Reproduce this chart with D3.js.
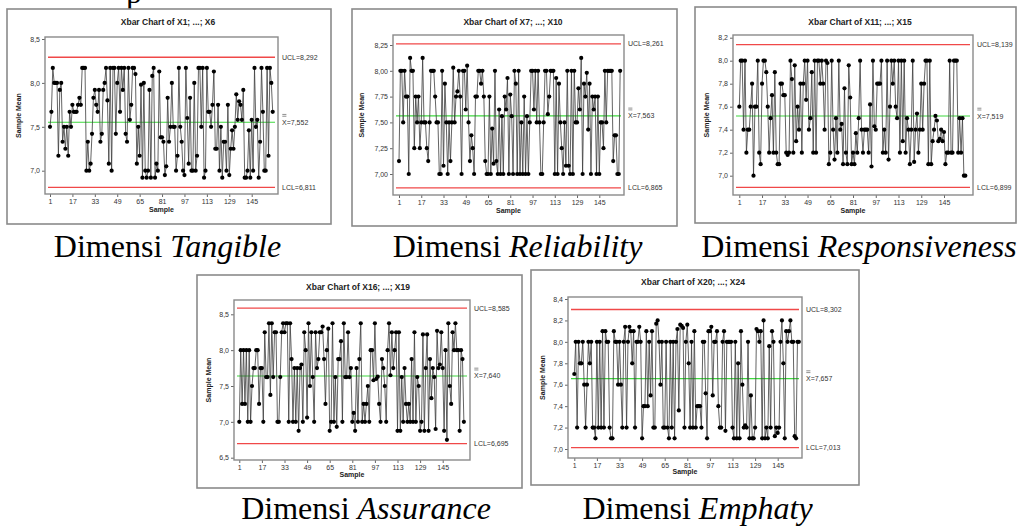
<!DOCTYPE html>
<html>
<head>
<meta charset="utf-8">
<script src="https://cdn.jsdelivr.net/npm/d3@7"></script>
<style>
  body { margin: 0; background: #fff; }
  svg { display: block; }
</style>
</head>
<body>
<div id="chart-container"></div>
<script>
// Sample numbers shown on every x axis
const sampleTicks = [1, 17, 33, 49, 65, 81, 97, 113, 129, 145];

// Sample means (160 samples each)
const tangibleMeans = [
  7.50, 7.67, 8.17, 8.00, 8.00, 8.00, 7.17, 7.92, 8.00, 7.33,
  7.50, 7.25, 7.50, 7.17, 7.67, 7.50, 7.75, 7.67, 7.67, 7.67,
  7.75, 7.83, 7.75, 8.17, 8.17, 8.17, 7.00, 7.33, 7.00, 7.08,
  7.42, 7.83, 7.92, 7.75, 7.67, 7.92, 7.33, 7.42, 7.92, 8.00,
  8.17, 7.80, 7.08, 8.17, 7.00, 8.17, 8.17, 7.42, 8.00, 8.17,
  7.67, 8.17, 7.92, 8.17, 7.42, 7.33, 8.17, 7.58, 7.75, 8.17,
  8.17, 8.10, 7.08, 7.50, 7.17, 7.98, 6.92, 8.00, 7.00, 6.92,
  7.00, 7.92, 6.92, 8.08, 8.17, 6.92, 7.08, 7.00, 8.13, 7.38,
  7.38, 7.33, 6.95, 7.05, 7.83, 7.33, 7.50, 8.00, 7.50, 7.50,
  7.00, 7.17, 8.17, 7.50, 7.33, 7.00, 6.95, 8.17, 7.60, 7.08,
  7.83, 7.00, 7.00, 8.00, 7.00, 7.17, 8.17, 8.17, 7.50, 8.17,
  6.92, 7.00, 8.17, 7.67, 7.67, 7.50, 7.75, 8.13, 7.25, 7.25,
  7.75, 7.00, 7.50, 6.92, 7.33, 7.33, 7.00, 7.75, 6.95, 7.25,
  7.46, 7.25, 7.50, 7.87, 7.58, 7.79, 7.75, 7.58, 7.92, 6.92,
  6.92, 7.00, 7.46, 6.92, 7.58, 7.00, 8.17, 7.50, 7.58, 6.92,
  7.33, 8.17, 7.67, 7.00, 7.00, 8.17, 7.17, 8.17, 8.00, 7.67
];
const reliabilityMeans = [
  7.125, 8.0, 8.0, 7.5, 8.0, 7.75, 7.75, 7.0, 8.125, 8.0,
  8.0, 7.25, 7.75, 7.5, 7.75, 7.25, 7.5, 8.125, 7.5, 7.5,
  7.25, 7.125, 7.5, 8.0, 8.0, 8.0, 7.75, 7.5, 7.5, 7.0,
  7.0, 8.0, 7.08, 7.875, 7.5, 7.0, 7.5, 7.125, 7.5, 8.03,
  7.5, 7.75, 7.8, 8.0, 7.75, 7.0, 8.0, 8.0, 7.625, 8.05,
  7.5, 7.125, 7.375, 7.25, 7.0, 7.75, 7.75, 8.0, 8.0, 7.875,
  8.0, 7.75, 7.125, 7.0, 7.0, 7.75, 7.0, 7.44, 7.1, 8.0,
  7.125, 7.0, 7.625, 7.0, 7.56, 7.0, 7.75, 7.625, 7.93, 7.0,
  7.77, 7.56, 7.0, 8.0, 7.875, 7.0, 8.0, 7.0, 7.5, 7.0,
  7.75, 7.0, 7.56, 7.0, 7.5, 8.0, 8.0, 7.625, 8.0, 7.5,
  8.0, 7.5, 7.0, 7.0, 7.5, 8.0, 8.0, 7.58, 7.75, 8.0,
  8.0, 8.0, 7.0, 7.93, 7.0, 7.875, 7.5, 7.25, 7.0, 7.5,
  7.08, 8.0, 7.08, 7.0, 8.0, 7.0, 8.0, 7.5, 7.5, 7.83,
  7.625, 8.125, 7.0, 7.875, 7.75, 7.98, 7.43, 7.875, 7.0, 7.75,
  7.625, 7.75, 7.0, 7.75, 7.0, 7.5, 7.5, 7.25, 8.0, 7.5,
  8.0, 8.0, 8.0, 8.0, 7.125, 7.375, 7.375, 7.0, 7.0, 8.0
];
const responsivenessMeans = [
  7.6, 8.0, 8.0, 7.4, 8.0, 7.2, 7.4, 7.4, 7.6, 7.8,
  7.0, 7.6, 7.6, 8.0, 7.2, 7.1, 7.8, 8.0, 8.0, 7.9,
  7.6, 7.2, 7.5, 7.7, 7.2, 7.9, 7.2, 7.1, 7.1, 7.8,
  7.8, 7.7, 7.7, 7.2, 7.18, 7.2, 8.0, 7.84, 7.2, 7.96,
  7.3, 7.6, 7.4, 7.8, 7.2, 7.8, 8.0, 7.66, 8.0, 7.4,
  7.5, 7.9, 7.2, 8.0, 7.2, 8.0, 8.0, 7.8, 8.0, 7.8,
  7.4, 8.0, 7.98, 7.1, 7.2, 8.0, 7.4, 7.14, 7.5, 7.2,
  8.0, 7.4, 7.45, 7.1, 7.76, 7.2, 7.1, 7.96, 7.68, 7.1,
  7.2, 7.1, 7.37, 7.2, 7.5, 8.0, 7.4, 7.2, 7.4, 7.4,
  7.4, 7.2, 7.62, 7.08, 8.0, 7.43, 7.4, 7.8, 7.8, 7.8,
  8.0, 7.2, 7.4, 7.2, 8.0, 7.14, 7.6, 8.0, 7.8, 8.0,
  7.6, 7.5, 8.0, 7.2, 8.0, 7.3, 8.0, 7.2, 7.5, 7.4,
  7.1, 7.4, 8.0, 7.12, 7.4, 7.54, 7.2, 7.4, 7.8, 7.4,
  7.8, 8.0, 8.0, 7.1, 8.0, 7.1, 7.3, 7.4, 7.52, 7.48,
  7.3, 7.32, 7.4, 7.3, 7.38, 7.1, 7.2, 7.2, 8.0, 7.2,
  7.2, 8.0, 8.0, 8.0, 7.2, 7.5, 7.2, 7.5, 7.0, 7.0
];
const assuranceMeans = [
  7.0, 8.0, 7.25, 8.0, 7.25, 8.0, 7.0, 8.0, 7.0, 7.5,
  7.75, 7.75, 8.0, 8.0, 7.25, 7.75, 7.75, 7.0, 8.25, 7.625,
  7.625, 8.375, 7.375, 8.375, 7.625, 8.25, 8.25, 7.0, 7.0, 7.625,
  8.25, 8.375, 8.25, 8.375, 8.375, 7.0, 8.375, 7.875, 7.0, 7.75,
  7.0, 7.75, 6.875, 7.75, 7.8, 7.0, 8.25, 8.0, 7.06, 8.375,
  7.5, 8.25, 7.625, 7.0, 8.25, 7.75, 7.875, 8.25, 8.25, 8.33,
  7.875, 7.25, 8.0, 8.3, 6.875, 7.0, 8.375, 7.0, 7.625, 6.93,
  7.875, 7.875, 8.125, 7.0, 8.375, 7.625, 7.625, 8.25, 7.625, 7.75,
  7.0, 7.125, 6.875, 7.75, 7.0, 7.875, 8.375, 7.0, 7.25, 7.0,
  7.25, 7.5, 7.0, 8.0, 8.0, 7.58, 8.375, 7.6, 7.63, 7.25,
  7.0, 7.875, 7.75, 7.5, 7.0, 8.0, 8.375, 7.65, 8.25, 7.75,
  8.0, 8.25, 6.875, 8.25, 6.875, 7.625, 7.0, 7.75, 7.25, 7.0,
  7.25, 7.0, 7.875, 7.0, 8.25, 7.0, 7.625, 7.5, 6.875, 7.0,
  8.22, 6.875, 7.75, 8.22, 6.875, 7.875, 7.33, 7.75, 7.625, 6.9,
  8.27, 7.75, 7.8, 8.25, 7.75, 6.875, 8.0, 6.75, 8.375, 7.5,
  7.25, 8.25, 8.0, 8.375, 8.0, 8.0, 6.875, 8.0, 7.875, 7.0
];
const emphatyMeans = [
  7.7, 8.0, 7.2, 8.0, 7.8, 7.8, 8.0, 7.6, 7.2, 7.6,
  8.0, 7.8, 8.0, 7.2, 7.2, 7.1, 8.0, 7.2, 8.0, 7.2,
  8.1, 7.2, 8.1, 8.0, 8.0, 7.2, 7.1, 7.1, 8.1, 8.0,
  8.0, 7.6, 8.0, 7.6, 7.2, 8.0, 8.14, 7.2, 8.0, 8.14,
  8.1, 7.8, 8.1, 7.2, 8.0, 8.0, 8.14, 8.0, 7.1, 7.4,
  7.4, 8.1, 7.4, 8.0, 7.5, 8.1, 7.2, 7.2, 8.17, 8.2,
  8.0, 7.6, 8.0, 7.2, 7.2, 8.0, 7.2, 7.1, 8.0, 7.2,
  8.0, 7.1, 8.0, 8.12, 7.36, 8.16, 8.15, 8.13, 7.2, 8.0,
  8.16, 7.8, 7.2, 8.0, 7.2, 8.1, 7.2, 7.4, 7.4, 7.4,
  7.2, 8.0, 8.0, 7.52, 7.1, 8.1, 8.1, 8.14, 7.5, 8.0,
  8.0, 8.1, 7.4, 7.2, 7.2, 8.0, 8.1, 7.17, 8.0, 8.0,
  8.0, 8.0, 7.2, 7.1, 8.0, 7.1, 7.8, 7.1, 8.1, 7.6,
  7.2, 7.22, 7.2, 8.0, 7.1, 7.5, 7.1, 7.1, 7.2, 8.12,
  8.1, 8.0, 8.1, 7.1, 8.2, 7.1, 7.2, 7.1, 7.96, 7.2,
  8.1, 8.0, 7.12, 7.2, 7.15, 7.2, 8.0, 8.2, 7.8, 7.1,
  8.1, 8.0, 8.1, 8.2, 8.0, 8.0, 7.12, 7.1, 8.0, 8.0
];

// Control limits: UCL, centre line (X double bar), LCL
const uclValues = [8.292, 8.261, 8.139, 8.585, 8.302];
const centerValues = [7.552, 7.563, 7.519, 7.640, 7.657];
const lclValues = [6.811, 6.865, 6.899, 6.695, 7.013];

// Y tick labels for each chart
const yTicksTangible = [7.0, 7.5, 8.0, 8.5];
const yTicksReliability = [7.00, 7.25, 7.50, 7.75, 8.00, 8.25];
const yTicksResponsiveness = [7.0, 7.2, 7.4, 7.6, 7.8, 8.0, 8.2];
const yTicksAssurance = [6.5, 7.0, 7.5, 8.0, 8.5];
const yTicksEmphaty = [7.0, 7.2, 7.4, 7.6, 7.8, 8.0, 8.2, 8.4];

const chartTitles = [
  "Xbar Chart of X1; ...; X6",
  "Xbar Chart of X7; ...; X10",
  "Xbar Chart of X11; ...; X15",
  "Xbar Chart of X16; ...; X19",
  "Xbar Chart of X20; ...; X24"
];
const dimensionNames = ["Tangible", "Reliability", "Responsiveness", "Assurance", "Emphaty"];

// Where each panel sits on the page (pixels)
const layouts = [
  { frame: [7, 9, 331, 224],    plot: [45, 37, 278, 194],   xPx: [50, 251.7],   yPx: [170.7, 39],   titleX: 168, titleY: 25,  xLabelY: 212, yLabelX: 21,  capX: 167.5, capY: 257, dec: 1 },
  { frame: [352, 9, 677, 226],  plot: [393, 35, 624, 195],  xPx: [399, 599.3],  yPx: [174, 45],     titleX: 513, titleY: 25,  xLabelY: 213, yLabelX: 364, capX: 517.5, capY: 257, dec: 2 },
  { frame: [695, 7, 1016, 223], plot: [733, 35, 973, 195],  xPx: [739.3, 944],  yPx: [175.7, 37.7], titleX: 860, titleY: 25,  xLabelY: 213, yLabelX: 709, capX: 859,   capY: 257, dec: 1 },
  { frame: [197, 275, 522, 488], plot: [234, 300, 470, 460], xPx: [239.3, 442.7], yPx: [457.7, 314.3], titleX: 358, titleY: 290, xLabelY: 477, yLabelX: 211, capX: 366, capY: 519, dec: 1 },
  { frame: [531, 270, 859, 485], plot: [568, 297, 802, 458], xPx: [574.3, 777.7], yPx: [449, 299],   titleX: 693, titleY: 285, xLabelY: 474, yLabelX: 545, capX: 697.5, capY: 519, dec: 1 }
];

const seriesList = [tangibleMeans, reliabilityMeans, responsivenessMeans, assuranceMeans, emphatyMeans];
const yTickList = [yTicksTangible, yTicksReliability, yTicksResponsiveness, yTicksAssurance, yTicksEmphaty];

const svg = d3.select("#chart-container")
  .append("svg")
  .attr("width", 1020)
  .attr("height", 527);

svg.append("rect").attr("width", 1020).attr("height", 527).attr("fill", "#fff");

// cut-off letter from the line above the figure
svg.append("text")
  .attr("x", 126).attr("y", 3)
  .style("font-family", "'Liberation Serif', 'Times New Roman', serif")
  .style("font-size", "32px")
  .text("p");

const comma = (dec) => (v) => d3.format("." + dec + "f")(v).replace(".", ",");

const drawXbar = (i) => {
  const L = layouts[i];
  const data = seriesList[i];
  const ticks = yTickList[i];
  const g = svg.append("g");
  const labelFont = "'Liberation Sans', Arial, sans-serif";

  // outer frame
  g.append("rect")
    .attr("x", L.frame[0]).attr("y", L.frame[1])
    .attr("width", L.frame[2] - L.frame[0]).attr("height", L.frame[3] - L.frame[1])
    .attr("fill", "#fff").attr("stroke", "#8a8a8a").attr("stroke-width", 1.6);

  const x = d3.scaleLinear().domain([sampleTicks[0], sampleTicks[sampleTicks.length - 1]]).range(L.xPx);
  const y = d3.scaleLinear().domain([ticks[0], ticks[ticks.length - 1]]).range(L.yPx);

  // title
  g.append("text")
    .attr("x", L.titleX).attr("y", L.titleY)
    .attr("text-anchor", "middle")
    .style("font-family", labelFont).style("font-size", "8.5px").style("font-weight", "bold")
    .style("fill", "#222")
    .text(chartTitles[i]);

  // axes
  const yAxis = g.append("g")
    .attr("transform", `translate(${L.plot[0]},0)`)
    .call(d3.axisLeft(y).tickValues(ticks).tickSize(3).tickPadding(2).tickFormat(comma(L.dec)));
  const xAxis = g.append("g")
    .attr("transform", `translate(0,${L.plot[3]})`)
    .call(d3.axisBottom(x).tickValues(sampleTicks).tickSize(3).tickPadding(2).tickFormat(d3.format("d")));
  [yAxis, xAxis].forEach(a => {
    a.select(".domain").remove();
    a.selectAll("line").attr("stroke", "#666");
    a.selectAll("text")
      .style("font-family", labelFont).style("font-size", "7px").style("fill", "#333");
  });

  // plot frame
  g.append("rect")
    .attr("x", L.plot[0]).attr("y", L.plot[1])
    .attr("width", L.plot[2] - L.plot[0]).attr("height", L.plot[3] - L.plot[1])
    .attr("fill", "none").attr("stroke", "#8a8a8a").attr("stroke-width", 1.4);

  // control lines
  const limits = [
    { v: uclValues[i], color: "#f04848", w: 1.3, label: "UCL=" + comma(3)(uclValues[i]) },
    { v: centerValues[i], color: "#3ed83e", w: 1.1, label: "X=" + comma(3)(centerValues[i]), bar: true },
    { v: lclValues[i], color: "#f04848", w: 1.3, label: "LCL=" + comma(3)(lclValues[i]) }
  ];
  limits.forEach(l => {
    g.append("line")
      .attr("x1", L.plot[0] + 3).attr("x2", L.plot[2] - 3)
      .attr("y1", y(l.v)).attr("y2", y(l.v))
      .attr("stroke", l.color).attr("stroke-width", l.w);
    g.append("text")
      .attr("x", L.plot[2] + 4).attr("y", y(l.v) + 2.5)
      .style("font-family", labelFont).style("font-size", "7px").style("fill", "#333")
      .text(l.label);
    if (l.bar) {
      [-6, -7.8].forEach(dy => {
        g.append("line")
          .attr("x1", L.plot[2] + 4.3).attr("x2", L.plot[2] + 8.4)
          .attr("y1", y(l.v) + dy).attr("y2", y(l.v) + dy)
          .attr("stroke", "#444").attr("stroke-width", 0.6);
      });
    }
  });

  // series line + markers
  const line = d3.line().x((d, k) => x(k + 1)).y(d => y(d));
  g.append("path")
    .datum(data)
    .attr("d", line)
    .attr("fill", "none").attr("stroke", "#3c3c3c").attr("stroke-width", 0.8);
  g.selectAll("circle.pt")
    .data(data)
    .join("circle")
    .attr("class", "pt")
    .attr("cx", (d, k) => x(k + 1))
    .attr("cy", d => y(d))
    .attr("r", 2.1)
    .attr("fill", "#000");

  // axis titles
  g.append("text")
    .attr("x", (L.plot[0] + L.plot[2]) / 2).attr("y", L.xLabelY)
    .attr("text-anchor", "middle")
    .style("font-family", labelFont).style("font-size", "7px").style("font-weight", "bold")
    .style("fill", "#222")
    .text("Sample");
  g.append("text")
    .attr("transform", `translate(${L.yLabelX},${(L.plot[1] + L.plot[3]) / 2}) rotate(-90)`)
    .attr("text-anchor", "middle")
    .style("font-family", labelFont).style("font-size", "7px").style("font-weight", "bold")
    .style("fill", "#222")
    .text("Sample Mean");

  // caption under the panel
  const cap = svg.append("text")
    .attr("x", L.capX).attr("y", L.capY)
    .attr("text-anchor", "middle")
    .style("font-family", "'Liberation Serif', 'Times New Roman', serif")
    .style("font-size", "32px")
    .style("fill", "#000");
  cap.append("tspan").text("Dimensi ");
  cap.append("tspan").style("font-style", "italic").text(dimensionNames[i]);
};

seriesList.forEach((s, i) => drawXbar(i));
</script>
</body>
</html>
